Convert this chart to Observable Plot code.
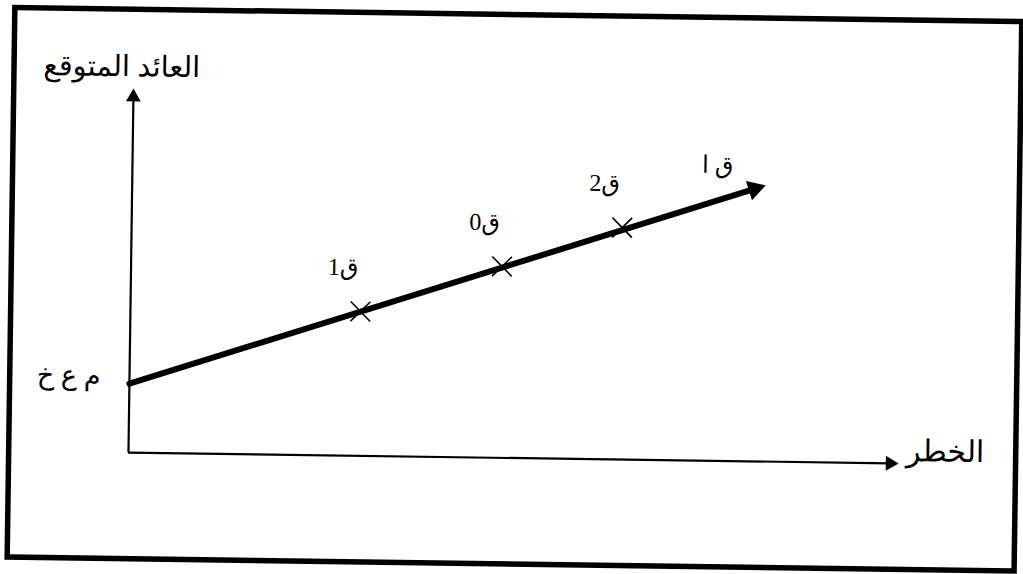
<!DOCTYPE html>
<html>
<head>
<meta charset="utf-8">
<script src="https://cdn.jsdelivr.net/npm/d3@7"></script>
<script src="https://cdn.jsdelivr.net/npm/@observablehq/plot@0.6"></script>
<style>
  html, body { margin: 0; padding: 0; background: #fff; overflow: hidden; }
  svg { display: block; }
</style>
</head>
<body>
<div id="chart"></div>
<script>
// ---- data ----
const axisLabels = { y: "العائد المتوقع", x: "الخطر" };
const riskFreeLabel = "م ع خ";
const riskFreeReturn = 19.4;           // intercept on the return axis
const lineEnd = { risk: 81.7, ret: 76.6, label: "ق ا" };
const portfolioNames = ["ق1", "ق0", "ق2"];
const portfolioRisk = [30.2, 48.7, 64.4];
const portfolioReturn = [40.6, 53.8, 65.2];
const axisMax = 100;

const portfolios = portfolioNames.map((name, i) => ({ name, risk: portfolioRisk[i], ret: portfolioReturn[i] }));
const mainLine = [{ risk: 0, ret: riskFreeReturn }, { risk: lineEnd.risk, ret: lineEnd.ret }];

// ---- layout ----
const W = 1023, H = 574;
const xRange = [130.3, 892], yRange = [457.5, 101.8];
const sx = d3.scaleLinear([0, axisMax], xRange);
const sy = d3.scaleLinear([0, axisMax], yRange);
const dxPix = sx(lineEnd.risk) - sx(0), dyPix = sy(lineEnd.ret) - sy(riskFreeReturn);
const lineAngle = Math.atan2(dyPix, dxPix) * 180 / Math.PI; // negative (upward)

const arabicFont = "Liberation Serif, DejaVu Sans, sans-serif";

const chart = Plot.plot({
  width: W,
  height: H,
  margin: 0,
  x: { domain: [0, axisMax], range: xRange, axis: null },
  y: { domain: [0, axisMax], range: yRange, axis: null },
  marks: [
    Plot.frame({ stroke: "black", strokeWidth: 5.5, insetLeft: 10.5, insetTop: 14, insetRight: 5.5, insetBottom: 10.5 }),
    // axes
    Plot.ruleX([0], { y1: 0, y2: axisMax, stroke: "black", strokeWidth: 2.2 }),
    Plot.ruleY([0], { x1: 0, x2: axisMax, stroke: "black", strokeWidth: 2.2 }),
    Plot.dot([{ x: 0, y: axisMax }], { x: "x", y: "y", symbol: "triangle", r: 5.5, fill: "black", stroke: null }),
    Plot.dot([{ x: axisMax, y: 0 }], { x: "x", y: "y", symbol: "triangle", r: 5.5, rotate: 90, fill: "black", stroke: null }),
    // main line
    Plot.line(mainLine, { x: "risk", y: "ret", stroke: "black", strokeWidth: 6 }),
    Plot.dot([lineEnd], { x: "risk", y: "ret", symbol: "triangle", r: 7.5, rotate: 90 + lineAngle, fill: "black", stroke: null }),
    // portfolios
    Plot.dot(portfolios, { x: "risk", y: "ret", symbol: "times", r: 9, stroke: "black", strokeWidth: 1.6 }),
    Plot.text(portfolios, { x: "risk", y: "ret", text: "name", dx: -18, dy: -44, fontSize: 24, fontFamily: arabicFont, fill: "black" }),
    Plot.text([lineEnd], { x: "risk", y: "ret", text: "label", dx: -37, dy: -23, fontSize: 24, fontFamily: arabicFont, fill: "black" }),
    // axis labels
    Plot.text([axisLabels.y], { x: () => 0, y: () => axisMax, text: d => d, dx: -12, dy: -30, fontSize: 29, fontFamily: arabicFont, fill: "black" }),
    Plot.text([axisLabels.x], { x: () => axisMax, y: () => 0, text: d => d, dx: 16, dy: -12, textAnchor: "start", fontSize: 30, fontFamily: arabicFont, fill: "black" }),
    Plot.text([riskFreeLabel], { x: () => 0, y: () => riskFreeReturn, text: d => d, dx: -29, dy: -7, textAnchor: "end", fontSize: 27, fontFamily: arabicFont, fill: "black" })
  ]
});
// the scanned original sits slightly rotated (about 0.8° clockwise)
chart.style.transformOrigin = "512px 287px";
chart.style.transform = "rotate(0.8deg)";
document.getElementById("chart").appendChild(chart);
</script>
</body>
</html>
